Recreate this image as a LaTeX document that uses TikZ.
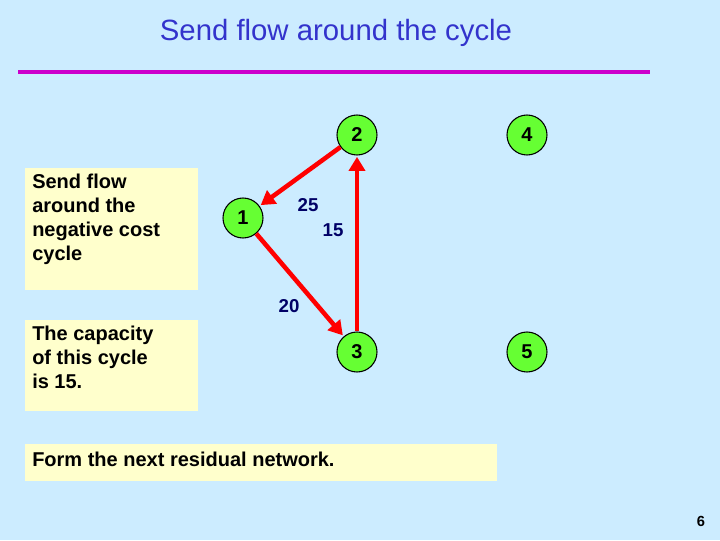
\documentclass[tikz,border=0pt]{standalone}
\usepackage{fontspec}
\setmainfont{Liberation Sans}
\usetikzlibrary{positioning,arrows.meta}
\definecolor{bg}{RGB}{204,236,255}
\definecolor{ttl}{RGB}{51,51,204}
\definecolor{rule}{RGB}{204,0,204}
\definecolor{nodegreen}{RGB}{102,255,51}
\definecolor{boxyel}{RGB}{255,255,204}
\definecolor{navy}{RGB}{0,0,102}
\tikzset{
  vert/.style={circle,draw=black,thick,fill=nodegreen,minimum size=30pt,inner sep=0pt,font=\bfseries\fontsize{15}{15}\selectfont},
  arc/.style={red,line width=3.4pt,-{Triangle[length=10.5pt,width=12pt]},shorten >=1pt},
  flowlbl/.style={navy,font=\bfseries\fontsize{14}{14}\selectfont},
  note/.style={anchor=north west,align=left,inner sep=0pt,font=\bfseries\fontsize{15}{18}\selectfont}
}
\begin{document}
\begin{tikzpicture}[x=0.75pt,y=-0.75pt]
    % background
    \fill[bg] (0,0) rectangle (720,540);
    \useasboundingbox (0,0) rectangle (720,540);

    % title
    \node[ttl,font=\fontsize{22}{22}\selectfont] (title) at (336,33) {Send flow around the cycle};
    \draw[rule,line width=3.5] (18,72) -- (650,72);

    % text boxes
    \fill[boxyel] (25,168) rectangle (198,290);
    \node[note] (n1) at (32,174) {Send flow\\around the\\negative cost\\cycle};
    \fill[boxyel] (25,320) rectangle (198,411);
    \node[note] (n2) at (32,326) {The capacity\\of this cycle\\is 15.};
    \fill[boxyel] (25,444) rectangle (497,481);
    \node[note] (n3) at (32,452) {Form the next residual network.};

    % network
    \node[vert] (v2) at (357,135) {2};
    \node[vert] (v4) at (527,135) {4};
    \node[vert] (v1) at (243,218) {1};
    \node[vert] (v3) at (357,352) {3};
    \node[vert] (v5) at (527,352) {5};

    \draw[arc] (v2) -- (v1);
    \draw[arc] (v1) -- (v3);
    \draw[arc] (v3) -- (v2);

    \node[flowlbl] (c25) at (308,205) {25};
    \node[flowlbl] (c15) at (333,230) {15};
    \node[flowlbl] (c20) at (289,306) {20};

    % page number
    \node[font=\bfseries\fontsize{11}{11}\selectfont] (pg) at (701,521) {6};
\end{tikzpicture}
\end{document}
